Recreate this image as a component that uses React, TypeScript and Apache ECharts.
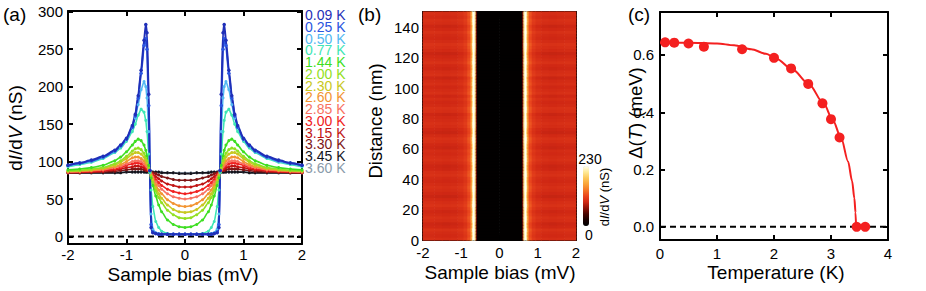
import React, { useEffect, useRef } from 'react';
import * as echarts from 'echarts';

const FONT = '"Liberation Sans", Arial, Helvetica, sans-serif';

// ---------- Panel (a): dI/dV spectra at several temperatures ----------
const temperatures = ['0.09 K', '0.25 K', '0.50 K', '0.77 K', '1.44 K', '2.00 K', '2.30 K', '2.60 K', '2.85 K', '3.00 K', '3.15 K', '3.30 K', '3.45 K', '3.60 K'];
const curveColors = ['#1f2fb8', '#2a55e0', '#52b8f2', '#3ee6b4', '#3ede22', '#92e022', '#c8c822', '#f29432', '#f87262', '#f02222', '#c01414', '#7e1616', '#14141c', '#8a9aaa'];

// non-negative bias points (mV); spectra are symmetric about zero bias
const biasHalf = [0, 0.1, 0.2, 0.3, 0.4, 0.45, 0.5, 0.55, 0.58, 0.6, 0.62, 0.65, 0.67, 0.7, 0.75, 0.8, 0.85, 0.9, 1.0, 1.1, 1.2, 1.4, 1.6, 1.8, 2.0];
const g009 = [3, 3, 3, 3, 3, 3, 4, 5, 12, 88, 190, 272, 283, 262, 222, 188, 163, 148, 131, 122, 115, 107, 102, 98, 95];
const g025 = [3, 3, 3, 3, 3, 3, 4, 6, 16, 88, 175, 250, 264, 255, 218, 185, 161, 146, 130, 121, 114, 106, 101, 98, 95];
const g050 = [3, 3, 3, 3, 3, 4, 5, 10, 30, 88, 140, 185, 200, 207, 196, 176, 158, 145, 129, 120, 113, 105, 100, 97, 94];
const g077 = [3, 3, 3, 4, 7, 12, 20, 40, 62, 85, 110, 140, 155, 166, 170, 162, 150, 140, 127, 118, 112, 104, 99, 96, 93];
const g144 = [12, 13, 16, 22, 33, 42, 54, 68, 78, 86, 95, 108, 115, 122, 128, 130, 127, 122, 113, 106, 101, 95, 92, 90, 89];
const g200 = [24, 25, 29, 35, 45, 52, 61, 72, 80, 86, 92, 101, 106, 111, 116, 118, 117, 114, 107, 101, 97, 92, 90, 88, 88];
const g230 = [32, 33, 36, 42, 51, 57, 65, 75, 81, 86, 91, 98, 102, 106, 110, 112, 112, 110, 104, 99, 95, 91, 89, 88, 87];
const g260 = [40, 41, 44, 49, 57, 62, 69, 77, 82, 86, 90, 95, 98, 101, 104, 106, 106, 105, 100, 96, 93, 90, 88, 87, 87];
const g285 = [50, 51, 53, 57, 63, 68, 73, 79, 83, 86, 89, 93, 95, 97, 100, 101, 101, 100, 97, 94, 92, 89, 88, 87, 86];
const g300 = [57, 58, 60, 63, 68, 72, 76, 81, 84, 86, 88, 91, 93, 95, 97, 98, 98, 97, 95, 92, 90, 88, 87, 86, 86];
const g315 = [66, 66, 68, 70, 74, 77, 80, 83, 85, 86, 88, 89, 90, 92, 93, 94, 94, 93, 92, 90, 89, 87, 86, 86, 85];
const g330 = [75, 75, 76, 78, 80, 82, 84, 85, 86, 86, 87, 88, 88, 89, 90, 90, 90, 90, 89, 88, 87, 86, 86, 85, 85];
const g345 = [84, 84, 85, 85, 85, 86, 86, 86, 86, 86, 86, 86, 86, 86, 86, 86, 86, 86, 86, 85, 85, 85, 85, 85, 85];
const g360 = [85, 85, 85, 85, 86, 86, 86, 86, 86, 86, 86, 86, 86, 86, 86, 86, 86, 86, 86, 86, 85, 85, 85, 85, 85];
const spectra = [g009, g025, g050, g077, g144, g200, g230, g260, g285, g300, g315, g330, g345, g360];

const ticksA = [0, 50, 100, 150, 200, 250, 300];
const zeroLineA = [[-2, 0], [2, 0]];

// ---------- Panel (b): conductance map ----------
const mapBiasEdges = [0, 0.57, 0.6, 0.63, 0.66, 0.7, 0.73, 0.77, 0.85, 0.95, 1.1, 1.3, 1.5, 1.7, 2.0];
const mapProfile = [2, 6, 60, 200, 270, 210, 150, 118, 104, 98, 95, 94, 95, 96];
const mapRowFactor = [
  1.02, 0.98, 1.0, 1.04, 0.97, 0.95, 1.01, 1.03, 0.99, 0.96, 1.0, 1.05, 1.02, 0.98, 0.94,
  0.97, 1.01, 1.03, 1.0, 0.97, 0.99, 1.04, 1.02, 0.96, 0.95, 0.99, 1.03, 1.01, 0.98, 1.0,
  0.95, 0.97, 1.02, 1.04, 0.99, 0.94, 0.96, 1.01, 1.03, 1.0, 0.98, 0.95, 1.02, 1.04, 0.99,
  0.97, 1.01, 0.96, 1.03, 1.0, 0.97, 1.02, 0.99, 0.95, 1.03, 1.01, 0.96, 0.98, 1.04, 1.0,
  0.97, 0.94, 0.99, 1.02, 1.05, 1.0, 0.97, 0.99, 1.03, 0.98, 0.95, 1.01, 1.03, 0.99, 1.02,
];
const mapDistanceMax = 150;
const ticksB = [0, 20, 40, 60, 80, 100, 120, 140];
const mapColors = ['#000000', '#180000', '#4a0500', '#8e1208', '#d02814', '#ea461e', '#f47828', '#faa43a', '#fcc85a', '#feea98', '#fffff2'];

// ---------- Panel (c): gap vs temperature ----------
const tempsC = [0.09, 0.25, 0.5, 0.77, 1.44, 2.0, 2.3, 2.6, 2.85, 3.0, 3.15, 3.45, 3.6];
const gapC = [0.644, 0.643, 0.64, 0.629, 0.62, 0.59, 0.553, 0.499, 0.431, 0.376, 0.312, 0, 0];
const fitT = [0, 0.5, 1.0, 1.3, 1.6, 1.86, 2.04, 2.33, 2.61, 2.87, 3.03, 3.18, 3.3, 3.37, 3.41, 3.43, 3.44];
const fitGap = [0.643, 0.643, 0.64, 0.634, 0.62, 0.604, 0.587, 0.548, 0.499, 0.431, 0.373, 0.309, 0.228, 0.16, 0.1, 0.05, 0];
const ticksC = [0, 0.2, 0.4, 0.6];
const zeroLineC = [[0, 0], [4, 0]];

function mirrorCurve(half: number[]): number[][] {
  const out: number[][] = [];
  for (let i = biasHalf.length - 1; i >= 1; i--) out.push([-biasHalf[i], half[i]]);
  for (let i = 0; i < biasHalf.length; i++) out.push([biasHalf[i], half[i]]);
  return out;
}

function buildMap(): number[][] {
  const cells: number[][] = [];
  const rowH = mapDistanceMax / mapRowFactor.length;
  mapRowFactor.forEach((f, j) => {
    for (let k = 0; k < mapProfile.length; k++) {
      const v = mapProfile[k] * f;
      cells.push([mapBiasEdges[k], mapBiasEdges[k + 1], j * rowH, (j + 1) * rowH, v]);
      cells.push([-mapBiasEdges[k + 1], -mapBiasEdges[k], j * rowH, (j + 1) * rowH, v]);
    }
  });
  return cells;
}

const axisLineStyle = { show: true, onZero: false, lineStyle: { color: '#000', width: 2 } };
const tickStyle = { inside: true, length: 5, lineStyle: { color: '#000', width: 2 } };
const labelStyle = { color: '#000', fontSize: 15, fontFamily: FONT };

function xAx(grid: number, min: number, max: number, position: string, margin: number) {
  const show = position === 'bottom';
  return {
    type: 'value', gridIndex: grid, min, max, interval: 1, position,
    axisLine: axisLineStyle, axisTick: tickStyle,
    axisLabel: { ...labelStyle, show, margin },
    splitLine: { show: false },
  };
}
function yAx(grid: number, min: number, max: number, ticks: number[], position: string, margin: number, fmt?: (v: number) => string) {
  const show = position === 'left';
  return {
    type: 'value', gridIndex: grid, min, max, position,
    axisLine: axisLineStyle,
    axisTick: { ...tickStyle, customValues: ticks },
    axisLabel: { ...labelStyle, show, margin, customValues: ticks, formatter: fmt || ((v: number) => String(v)) },
    splitLine: { show: false },
  };
}

function txt(x: number, y: number, text: string, size: number, opts: any = {}) {
  return {
    type: 'text', x, y, rotation: opts.rotation || 0, silent: true,
    style: {
      text, fill: opts.fill || '#000', fontSize: size, fontFamily: FONT,
      align: opts.align || 'center', verticalAlign: opts.verticalAlign || 'middle', rich: opts.rich,
    },
  };
}

export default function App() {
  const ref = useRef<HTMLDivElement>(null);
  useEffect(() => {
    if (!ref.current) return;
    const chart = echarts.init(ref.current, undefined, { renderer: 'svg' });

    const series: any[] = [];
    // draw hottest first so the low-temperature curves sit on top
    for (let i = spectra.length - 1; i >= 0; i--) {
      series.push({
        type: 'line', name: temperatures[i], xAxisIndex: 0, yAxisIndex: 0,
        data: mirrorCurve(spectra[i]), smooth: 0.2, smoothMonotone: 'x',
        symbol: 'circle', symbolSize: i < 2 ? 3.5 : 3, showSymbol: true,
        lineStyle: { color: curveColors[i], width: i < 2 ? 2 : 1.6 },
        itemStyle: { color: curveColors[i] },
        silent: true, z: 3,
      });
    }
    series.push({
      type: 'line', xAxisIndex: 0, yAxisIndex: 0, data: zeroLineA, symbol: 'none',
      lineStyle: { color: '#000', width: 2, type: [6, 4] }, silent: true, z: 2,
    });
    const mapIndex = series.length;
    series.push({
      type: 'custom', xAxisIndex: 2, yAxisIndex: 2, data: buildMap(),
      encode: { x: [0, 1], y: [2, 3] }, silent: true, z: 1,
      renderItem: (params: any, api: any) => {
        const p0 = api.coord([api.value(0), api.value(2)]);
        const p1 = api.coord([api.value(1), api.value(3)]);
        const c = api.visual('color');
        return {
          type: 'rect',
          shape: { x: p0[0] - 0.3, y: p1[1] - 0.6, width: p1[0] - p0[0] + 0.6, height: p0[1] - p1[1] + 1.2 },
          style: { fill: c, stroke: null },
        };
      },
    });
    series.push({
      type: 'line', xAxisIndex: 4, yAxisIndex: 4, data: zeroLineC, symbol: 'none',
      lineStyle: { color: '#000', width: 2, type: [6, 4] }, silent: true, z: 2,
    });
    series.push({
      type: 'line', xAxisIndex: 4, yAxisIndex: 4, data: fitT.map((t, i) => [t, fitGap[i]]),
      smooth: 0.3, smoothMonotone: 'x', symbol: 'none',
      lineStyle: { color: '#f42020', width: 2 }, silent: true, z: 3,
    });
    series.push({
      type: 'scatter', xAxisIndex: 4, yAxisIndex: 4, data: tempsC.map((t, i) => [t, gapC[i]]),
      symbol: 'circle', symbolSize: 10, itemStyle: { color: '#f42020', opacity: 1 }, silent: true, z: 4,
    });

    const richN = (s: number) => ({ fontSize: s, fontFamily: FONT, fill: '#000' });
    const richI = (s: number) => ({ fontSize: s, fontFamily: FONT, fontStyle: 'italic', fill: '#000' });

    // legend of temperatures as one multi-line coloured text block
    const legendRich: any = {};
    curveColors.forEach((c, i) => {
      legendRich['c' + i] = { fill: c, fontSize: 14, fontFamily: FONT, lineHeight: 11.77 };
    });
    const legendText = temperatures.map((t, i) => `{c${i}|${t}}`).join('\n');

    const graphic: any[] = [
      txt(3, 14, '(a)', 19, { align: 'left' }),
      txt(358, 14, '(b)', 19, { align: 'left' }),
      txt(628, 14, '(c)', 19, { align: 'left' }),
      txt(183, 274, 'Sample bias (mV)', 19),
      txt(500, 272, 'Sample bias (mV)', 19),
      txt(776, 272, 'Temperature (K)', 19),
      txt(15, 128, '{n|d}{i|I}{n|/d}{i|V}{n| (nS)}', 19, {
        rotation: Math.PI / 2, rich: { n: richN(19), i: richI(19) },
      }),
      txt(375, 121, 'Distance (nm)', 18.5, { rotation: Math.PI / 2 }),
      txt(635, 113, '{n|Δ(}{i|T}{n|) (meV)}', 18.5, {
        rotation: Math.PI / 2, rich: { n: richN(18.5), i: richI(18.5) },
      }),
      txt(590, 159, '230', 14),
      txt(589, 235, '0', 14),
      txt(604, 197, '{n|d}{i|I}{n|/d}{i|V}{n| (nS)}', 13, {
        rotation: Math.PI / 2, rich: { n: richN(13), i: richI(13) },
      }),
      txt(305, 15 - 11.77 / 2, legendText, 14, { align: 'left', verticalAlign: 'top', rich: legendRich }),
    ];

    chart.setOption({
      animation: false,
      backgroundColor: '#ffffff',
      grid: [
        { left: 68, top: 11, width: 234, height: 233 },
        { left: 423, top: 12, width: 153, height: 228 },
        { left: 660, top: 12, width: 228, height: 228 },
      ],
      xAxis: [
        xAx(0, -2, 2, 'bottom', 3), xAx(0, -2, 2, 'top', 3),
        xAx(1, -2, 2, 'bottom', 5), xAx(1, -2, 2, 'top', 5),
        xAx(2, 0, 4, 'bottom', 6), xAx(2, 0, 4, 'top', 6),
      ],
      yAxis: [
        yAx(0, -10, 301, ticksA, 'left', 5), yAx(0, -10, 301, ticksA, 'right', 5),
        yAx(1, 0, mapDistanceMax, ticksB, 'left', 4), yAx(1, 0, mapDistanceMax, ticksB, 'right', 4),
        yAx(2, -0.046, 0.75, ticksC, 'left', 6, (v: number) => v.toFixed(1)), yAx(2, -0.046, 0.75, ticksC, 'right', 6),
      ],
      visualMap: [{
        type: 'continuous', seriesIndex: mapIndex, dimension: 4, min: 0, max: 230,
        inRange: { color: mapColors }, left: 583, top: 166, itemWidth: 6, itemHeight: 60,
        calculable: false, padding: 0, orient: 'vertical', hoverLink: false,
      }],
      series,
      graphic,
    });
    return () => chart.dispose();
  }, []);
  return <div ref={ref} style={{ position: 'absolute', left: 0, top: 0, width: 926, height: 291 }} />;
}
